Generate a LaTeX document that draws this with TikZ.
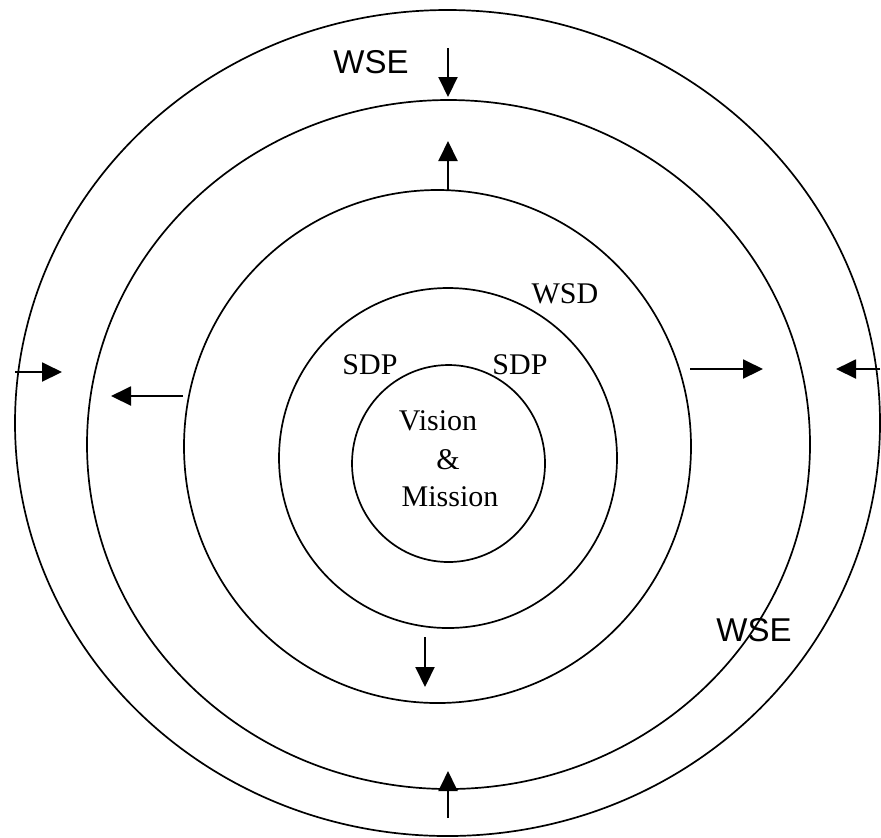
\documentclass[tikz,border=0pt]{standalone}
\usepackage{fontspec}
\setmainfont{Liberation Serif}
\newfontfamily\wsefont{Liberation Sans}
\usetikzlibrary{arrows.meta}

\begin{document}
\begin{tikzpicture}[x=0.5pt, y=-0.5pt,
    ring/.style={line width=0.85pt},
    flow/.style={line width=1pt, -{Triangle[length=10pt, width=9.5pt]}},
    serlabel/.style={inner sep=0pt, font=\fontsize{15}{18}\selectfont},
    wselabel/.style={inner sep=0pt, font=\wsefont\fontsize{16.5}{20}\selectfont}]

    \useasboundingbox (0,0) rectangle (881,837);

    % Rings, from the outside in
    \draw[ring] (447.5,423) ellipse [x radius=432.5, y radius=413];
    \draw[ring] (448.5,444.5) ellipse [x radius=361.5, y radius=344.5];
    \draw[ring] (437.5,446.5) ellipse [x radius=253.5, y radius=256.5];
    \draw[ring] (448,458) ellipse [x radius=169, y radius=170];
    \draw[ring] (448.5,463.5) ellipse [x radius=96.5, y radius=98.5];

    % Labels
    \node[wselabel] (wsetop) at (371,62) {WSE};
    \node[wselabel] (wsebot) at (754,630) {WSE};
    \node[serlabel] (wsd) at (565,294) {WSD};
    \node[serlabel] (sdpl) at (370,365) {SDP};
    \node[serlabel] (sdpr) at (520,365) {SDP};

    % Centre text
    \node[serlabel] (vision) at (438,421) {Vision};
    \node[serlabel] (amp) at (448,460) {\&};
    \node[serlabel] (mission) at (450,497) {Mission};

    % Arrow ends
    \coordinate (topA) at (448,48);   \coordinate (topB) at (448,97);
    \coordinate (upA) at (448,190);   \coordinate (upB) at (448,141);
    \coordinate (linA) at (15,372);   \coordinate (linB) at (62,372);
    \coordinate (loutA) at (183,396); \coordinate (loutB) at (111,396);
    \coordinate (routA) at (690,369); \coordinate (routB) at (763,369);
    \coordinate (rinA) at (880,369);  \coordinate (rinB) at (836,369);
    \coordinate (downA) at (425,637); \coordinate (downB) at (425,687);
    \coordinate (botA) at (448,818);  \coordinate (botB) at (448,771);

    % Arrows
    \draw[flow] (topA) -- (topB);
    \draw[flow] (upA) -- (upB);
    \draw[flow] (linA) -- (linB);
    \draw[flow] (loutA) -- (loutB);
    \draw[flow] (routA) -- (routB);
    \draw[flow] (rinA) -- (rinB);
    \draw[flow] (downA) -- (downB);
    \draw[flow] (botA) -- (botB);

\end{tikzpicture}
\end{document}
